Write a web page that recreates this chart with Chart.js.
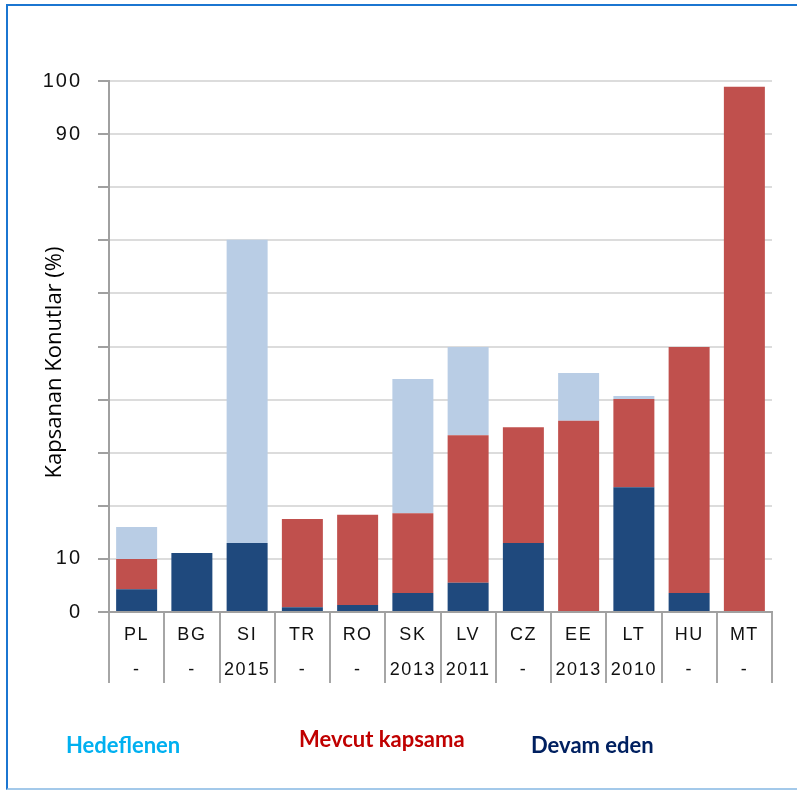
<!DOCTYPE html>
<html>
<head>
<meta charset="utf-8">
<script src="https://cdn.jsdelivr.net/npm/chart.js@4"></script>
<style>
  html, body { margin: 0; padding: 0; background: #fff; }
  #wrap { position: relative; width: 797px; height: 790px; overflow: hidden; }
  #frame { position: absolute; left: 6px; top: 4px; width: 820px; height: 782px;
           border-left: 2px solid #1b76d1; border-top: 2px solid #1b76d1; border-bottom: 2px solid #a3c9ea; }
  canvas { position: absolute; left: 0; top: 0; }
  .leg { position: absolute; font-family: Lato, "Open Sans", sans-serif; font-weight: bold; font-size: 22px; white-space: nowrap; }
</style>
</head>
<body>
<div id="wrap">
  <div id="frame"></div>
  <canvas id="chart" width="797" height="790"></canvas>
  <div class="leg" style="left:66px; top:731px; color:#00b0f0;">Hedeflenen</div>
  <div class="leg" style="left:299px; top:725px; color:#c00000;">Mevcut kapsama</div>
  <div class="leg" style="left:531px; top:731px; color:#002060;">Devam eden</div>
</div>
<script>
const countries = ['PL', 'BG', 'SI', 'TR', 'RO', 'SK', 'LV', 'CZ', 'EE', 'LT', 'HU', 'MT']
const years = ['-', '-', '2015', '-', '-', '2013', '2011', '-', '2013', '2010', '-', '-']

// stacked segments, bottom to top
const devamEden = [4.3, 11.1, 13, 0.9, 1.3, 3.6, 5.5, 13, 0, 23.5, 3.6, 0]
const mevcutKapsama = [5.7, 0, 0, 16.6, 17, 15, 27.8, 21.8, 36, 16.6, 46.3, 98.9]
const hedeflenen = [6, 0, 57.1, 0, 0, 25.3, 16.6, 0, 9, 0.6, 0, 0]

const yLabelled = [0, 10, 90, 100]

const labels = countries.map((c, i) => [c, years[i]])

// letter spacing for tick labels only, title nudged down a bit
const spacing = {
  id: 'spacing',
  beforeDraw(chart) {
    for (const s of Object.values(chart.scales)) {
      if (s._spaced) continue
      const ls = s.id === 'x' ? '1.5px' : '2px'
      const drawLabels = s.drawLabels
      const drawTitle = s.drawTitle
      s.drawLabels = function (a) {
        this.ctx.save(); this.ctx.letterSpacing = ls
        drawLabels.call(this, a)
        this.ctx.restore()
      }
      s.drawTitle = function () {
        this.ctx.save(); this.ctx.letterSpacing = '0px'
        this.ctx.translate(0, 16)
        drawTitle.call(this)
        this.ctx.restore()
      }
      s._spaced = true
    }
  }
}

const data = {
  labels: labels,
  datasets: [
    { label: 'Devam eden', data: devamEden, backgroundColor: '#1f497d' },
    { label: 'Mevcut kapsama', data: mevcutKapsama, backgroundColor: '#c0504d' },
    { label: 'Hedeflenen', data: hedeflenen, backgroundColor: '#b9cde5' }
  ]
}

const ctx = document.getElementById('chart').getContext('2d')
const myChart = new Chart(ctx, {
  type: 'bar',
  data: data,
  plugins: [spacing],
  options: {
    responsive: false,
    animation: false,
    datasets: {
      bar: { barPercentage: 0.742, categoryPercentage: 1 }
    },
    layout: {
      autoPadding: false,
      padding: { top: 81, left: 0, right: 25, bottom: 0 }
    },
    plugins: {
      legend: { display: false },
      tooltip: { enabled: false }
    },
    scales: {
      x: {
        stacked: true,
        afterFit(scale) { scale.height = 178 },
        border: { color: '#a0a0a0', width: 2 },
        grid: {
          offset: true,
          drawOnChartArea: false,
          tickLength: 71,
          color: '#a6a6a6',
          lineWidth: 2
        },
        ticks: {
          color: '#111',
          padding: -65,
          maxRotation: 0,
          autoSkip: false,
          font: { family: '"Liberation Sans", Arial, sans-serif', size: 18, lineHeight: 1.944 }
        }
      },
      y: {
        stacked: true,
        min: 0,
        max: 100,
        afterFit(scale) { scale.width = 109 },
        border: { color: '#a0a0a0', width: 2 },
        grid: {
          color: '#dcdcdc',
          tickColor: '#a0a0a0',
          tickLength: 11,
          lineWidth: 2
        },
        ticks: {
          stepSize: 10,
          padding: 16,
          color: '#111',
          font: { family: '"Liberation Sans", Arial, sans-serif', size: 20 },
          callback: (v) => yLabelled.includes(v) ? v : ''
        },
        title: {
          display: true,
          text: 'Kapsanan Konutlar (%)',
          color: '#000',
          padding: { top: 42, bottom: 0 },
          font: { family: '"Open Sans", sans-serif', size: 22 }
        }
      }
    }
  }
})
</script>
</body>
</html>
